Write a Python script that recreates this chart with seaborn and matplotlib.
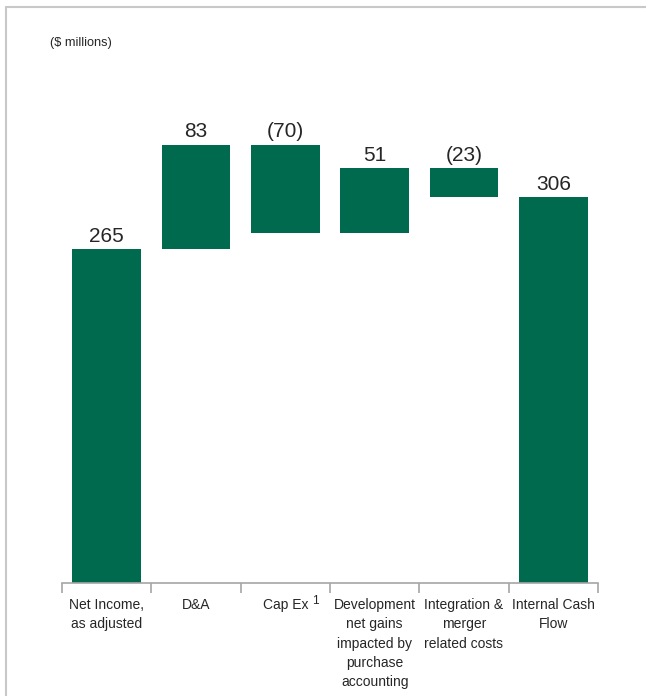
import matplotlib
matplotlib.use("Agg")
import matplotlib.pyplot as plt
import seaborn as sns
import pandas as pd
from matplotlib.lines import Line2D

categories = ["Net Income,\nas adjusted", "D&A", "Cap Ex",
              "Development\nnet gains\nimpacted by\npurchase\naccounting",
              "Integration &\nmerger\nrelated costs", "Internal Cash\nFlow"]
footnotes = ["", "", "1", "", "", ""]
values = [265, 83, -70, 51, -23, 306]
is_total = [True, False, False, False, False, True]

sns.set_theme(style="white")
plt.rcParams['font.family'] = ['Liberation Sans', 'DejaVu Sans']

# compute bottoms and tops
bottoms, heights, tops = [], [], []
running = 0
for v, t in zip(values, is_total):
    if t:
        bottoms.append(0); heights.append(v); tops.append(v)
        running = v
    else:
        new = running + v
        bottoms.append(min(running, new)); heights.append(abs(v)); tops.append(max(running, new))
        running = new

labels = [f"({abs(v)})" if v < 0 else f"{v}" for v in values]
df = pd.DataFrame({"cat": categories, "h": heights})

W, H = 646, 696
fig = plt.figure(figsize=(W / 100, H / 100), dpi=100)
ax_top_px, ax_bot_px, ax_left_px, ax_right_px = 30, 583, 62, 598
ax = fig.add_axes([ax_left_px / W, 1 - ax_bot_px / H,
                   (ax_right_px - ax_left_px) / W, (ax_bot_px - ax_top_px) / H])

green = "#006A4E"
sns.barplot(data=df, x="cat", y="h", color=green, saturation=1, width=0.77,
            edgecolor="none", ax=ax)
for p, b in zip(ax.patches, bottoms):
    p.set_y(b)

px_per_unit = 1.26
ax.set_xlim(-0.5, len(categories) - 0.5)
ax.set_ylim(0, (ax_bot_px - ax_top_px) / px_per_unit)

for i, (t, lab) in enumerate(zip(tops, labels)):
    ax.annotate(lab, (i, t), xytext=(0, 2.5), textcoords="offset points",
                ha="center", va="bottom", fontsize=15, color="#262626")

ax.set_xlabel(""); ax.set_ylabel("")
ax.set_yticks([])
for s in ["top", "right", "left"]:
    ax.spines[s].set_visible(False)
ax.spines["bottom"].set_color("#a6a6a6")
ax.spines["bottom"].set_linewidth(1.2)
ax.set_xticks(range(len(categories)))
shown = [c if not f else "" for c, f in zip(categories, footnotes)]
ax.set_xticklabels(shown, fontsize=10, color="#262626", linespacing=1.47)
ax.set_xticks([i - 0.5 for i in range(len(categories) + 1)], minor=True)
ax.tick_params(axis="x", which="major", length=0, pad=11)
ax.tick_params(axis="x", which="minor", length=7, width=1.2, color="#a6a6a6",
               direction="out", bottom=True)

# labels with a footnote mark drawn as text + raised number
for i, (c, f) in enumerate(zip(categories, footnotes)):
    if f:
        ax.annotate(c, (i, 0), xycoords=("data", "axes fraction"),
                    xytext=(0, -11), textcoords="offset points",
                    ha="center", va="top", fontsize=10, color="#262626")
        ax.annotate(f, (i, 0), xycoords=("data", "axes fraction"),
                    xytext=(19, -9), textcoords="offset points",
                    ha="left", va="top", fontsize=8.5, color="#262626")

fig.text(50 / W, 1 - 43 / H, "($ millions)", fontsize=9.2, color="#262626",
         ha="left", va="center")

# outer frame lines (top and left)
fig.add_artist(Line2D([6 / W, 1], [1 - 7 / H, 1 - 7 / H], transform=fig.transFigure,
                      color="#c8c8c8", lw=1.5))
fig.add_artist(Line2D([6 / W, 6 / W], [0, 1 - 7 / H], transform=fig.transFigure,
                      color="#c8c8c8", lw=1.5))

fig.savefig("out.png", dpi=100)
